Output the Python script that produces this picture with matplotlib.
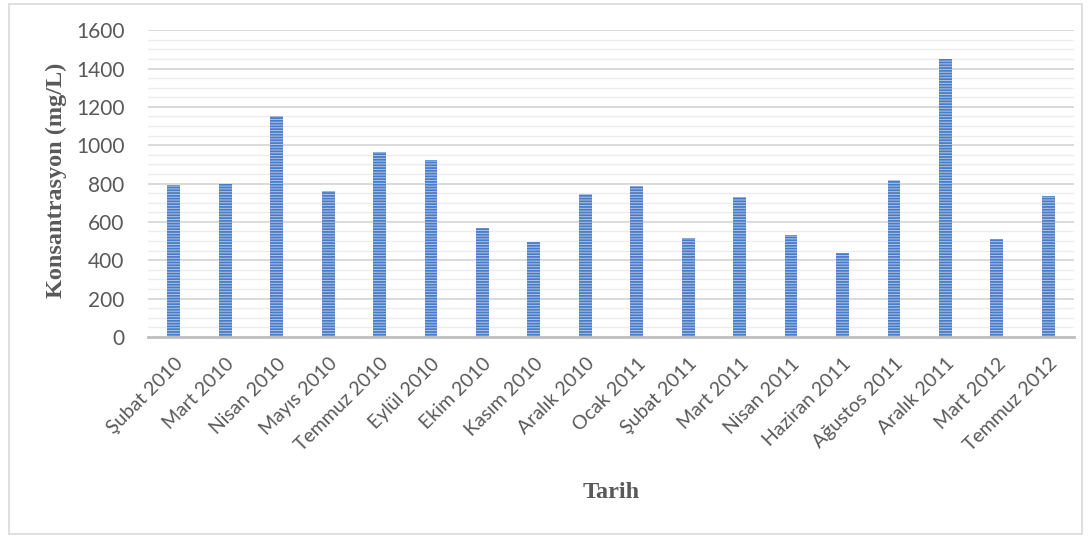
import matplotlib
matplotlib.use("Agg")
import matplotlib.pyplot as plt
from matplotlib.patches import Rectangle
import numpy as np

# dates and concentrations
tarihler = ['Şubat 2010', 'Mart 2010', 'Nisan 2010', 'Mayıs 2010', 'Temmuz 2010',
            'Eylül 2010', 'Ekim 2010', 'Kasım 2010', 'Aralık 2010', 'Ocak 2011',
            'Şubat 2011', 'Mart 2011', 'Nisan 2011', 'Haziran 2011', 'Ağustos 2011',
            'Aralık 2011', 'Mart 2012', 'Temmuz 2012']
konsantrasyon = [790, 800, 1150, 760, 965, 925, 570, 495, 745, 785,
                 515, 730, 530, 440, 820, 1450, 510, 735]
y_ticks = [0, 200, 400, 600, 800, 1000, 1200, 1400, 1600]

plt.rcParams['hatch.linewidth'] = 1.3
plt.rcParams['hatch.color'] = '#4A7CC6'

fig = plt.figure(figsize=(10.91, 5.39), dpi=100)
ax = fig.add_axes([0.1357, 0.375, 0.8487, 0.569])

x = np.arange(len(tarihler))
ax.bar(x, konsantrasyon, width=0.25, color='#AFC6E9', edgecolor='#4A7CC6',
       linewidth=0, hatch='------', zorder=3)

ax.set_xlim(-0.5, len(tarihler) - 0.5)
ax.set_ylim(0, 1600)
ax.set_yticks(y_ticks)
ax.set_yticks(np.arange(0, 1601, 50), minor=True)
ax.grid(axis='y', which='major', color='#D4D4D4', linewidth=1.2, zorder=0)
ax.grid(axis='y', which='minor', color='#EDEDED', linewidth=1.0, zorder=0)
ax.tick_params(axis='both', which='both', length=0)
ax.tick_params(axis='y', labelsize=15, labelcolor='#595959', pad=17)

ax.set_xticks(x)
ax.set_xticklabels(tarihler, rotation=45, ha='right', rotation_mode='anchor',
                   fontsize=14, color='#595959')
ax.tick_params(axis='x', pad=13)

for s in ['left', 'right', 'top']:
    ax.spines[s].set_visible(False)
ax.spines['bottom'].set_color('#BFBFBF')
ax.spines['bottom'].set_linewidth(2)
ax.spines['bottom'].set_zorder(4)

for lbl in ax.get_xticklabels() + ax.get_yticklabels():
    lbl.set_family(['Lato', 'DejaVu Sans'])

fig.text(0.56, 0.087, 'Tarih', ha='center', va='center', fontsize=17.5,
         fontweight='bold', color='#595959', family='Liberation Serif')
fig.text(0.052, 0.666, 'Konsantrasyon (mg/L)', ha='center', va='center', rotation=90,
         fontsize=17.5, fontweight='bold', color='#595959', family='Liberation Serif')

fig.patches.append(Rectangle((0.008, 0.01), 0.984, 0.983, transform=fig.transFigure,
                             fill=False, edgecolor='#D9D9D9', linewidth=1.2))

fig.savefig('out.png', dpi=100)
